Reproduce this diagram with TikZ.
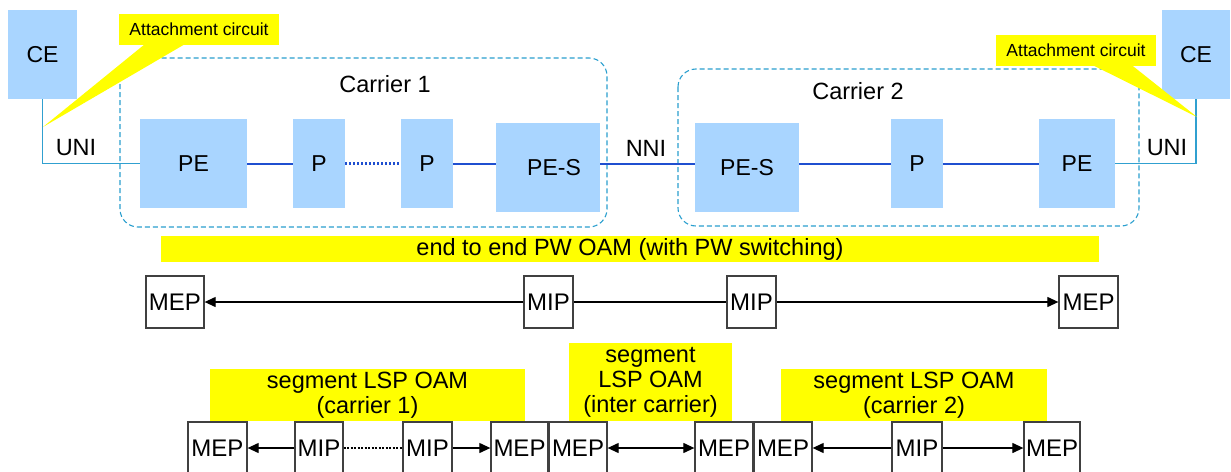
\documentclass[tikz,border=0pt]{standalone}
\usepackage{fontspec}
\setmainfont{Liberation Sans}
\usetikzlibrary{arrows.meta}
\definecolor{boxblue}{HTML}{A9D5FF}
\definecolor{dashcol}{HTML}{2A9FCF}
\definecolor{linkblue}{HTML}{1F4FD0}
\definecolor{accol}{HTML}{30A0D0}
\definecolor{hl}{HTML}{FFFF00}
\definecolor{bordergray}{HTML}{404040}
\begin{document}
\begin{tikzpicture}[x=1pt,y=-1pt,
  dev/.style={fill=boxblue, draw=none, inner sep=0, font=\fontsize{23}{27}\selectfont},
  carrier/.style={draw=dashcol, dash pattern=on 5pt off 3pt, rounded corners=18pt, line width=1.1pt},
  link/.style={draw=linkblue, line width=2pt},
  dotlink/.style={draw=linkblue, line width=2.2pt, dash pattern=on 2pt off 2pt},
  aclink/.style={draw=accol, line width=1.3pt},
  oam/.style={draw=bordergray, fill=white, line width=1.3pt, inner sep=0, minimum height=52pt, font=\fontsize{24}{27}\selectfont},
  banner/.style={fill=hl, inner sep=0, align=center, font=\fontsize{23.5}{25}\selectfont},
  callout/.style={fill=hl, inner sep=0, minimum width=160pt, minimum height=31pt, font=\fontsize{17.5}{20}\selectfont},
  lbl/.style={inner sep=0, font=\fontsize{23.5}{27}\selectfont},
  arr/.style={draw=black, line width=1.2pt},
  tipend/.style={-{Triangle[length=11pt,width=10pt]}},
  tipboth/.style={{Triangle[length=11pt,width=10pt]}-{Triangle[length=11pt,width=10pt]}},
]
\clip (0,0) rectangle (1231,471);
\fill[white] (0,0) rectangle (1231,471);

% carriers
\draw[carrier] (120,58) rectangle (607,227);
\draw[carrier] (678,69) rectangle (1139,226);
\node[lbl] (car1) at (385,84) {Carrier 1};
\node[lbl] (car2) at (858,91) {Carrier 2};

% devices
\node[dev, minimum width=69pt, minimum height=89pt] (CE1) at (42.5,54.5) {CE};
\node[dev, minimum width=68pt, minimum height=89pt] (CE2) at (1196,54.5) {CE};
\node[dev, minimum width=107pt, minimum height=89pt] (PE1) at (193.5,163.5) {PE};
\node[dev, minimum width=52pt, minimum height=89pt] (P1) at (319,163.5) {P};
\node[dev, minimum width=52pt, minimum height=89pt] (P2) at (427,163.5) {P};
\node[dev, minimum width=104pt, minimum height=89pt] (PES1) at (548,167.5) {\hspace*{12pt}PE-S};
\node[dev, minimum width=104pt, minimum height=89pt] (PES2) at (747,167.5) {PE-S};
\node[dev, minimum width=52pt, minimum height=89pt] (P3) at (917,163.5) {P};
\node[dev, minimum width=76pt, minimum height=89pt] (PE2) at (1077,163.5) {PE};

% links
\draw[aclink] (CE1.south) |- (PE1.west);
\draw[aclink] (CE2.south) |- (PE2.east);
\draw[link] (PE1.east) -- (P1.west);
\draw[dotlink] (P1.east) -- (P2.west);
\draw[link] (P2.east) -- (P2.east -| PES1.west);
\draw[link] (P2.east -| PES1.east) -- (P2.east -| PES2.west);
\draw[link] (P3.west -| PES2.east) -- (P3.west);
\draw[link] (P3.east) -- (PE2.west);

\node[lbl] (uni1) at (76,148) {UNI};
\node[lbl] (nni) at (646,148) {NNI};
\node[lbl] (uni2) at (1167,148) {UNI};

% callouts
\coordinate (tip1) at (43,127);
\coordinate (tip2) at (1197,117);
\node[callout] (ac1) at (199,29.5) {Attachment circuit};
\node[callout] (ac2) at (1076,50.5) {Attachment circuit};
\fill[hl] ([xshift=26pt,yshift=1pt]ac1.south west) -- (tip1) -- ([xshift=66pt,yshift=1pt]ac1.south west) -- cycle;
\fill[hl] ([xshift=97pt,yshift=1pt]ac2.south west) -- (tip2) -- ([xshift=136pt,yshift=1pt]ac2.south west) -- cycle;

% end to end banner
\node[banner, minimum width=938pt, minimum height=26pt] (e2e) at (630,249) {end to end PW OAM (with PW switching)};

% row 1
\node[oam, minimum width=58pt] (MEP1) at (175,302) {MEP};
\node[oam, minimum width=49pt] (MIP1) at (548.5,302) {MIP};
\node[oam, minimum width=49pt] (MIP2) at (751.5,302) {MIP};
\node[oam, minimum width=59pt] (MEP2) at (1088.5,302) {MEP};
\draw[arr, tipend] (MIP1.west) -- (MEP1.east);
\draw[arr] (MIP1.east) -- (MIP2.west);
\draw[arr, tipend] (MIP2.east) -- (MEP2.west);

% row 2 banners
\node[banner, minimum width=315pt, minimum height=52pt] (seg1) at (367.5,395) {segment LSP OAM\\(carrier 1)};
\node[banner, minimum width=163pt, minimum height=78pt] (segi) at (650.5,382) {segment\\LSP OAM\\(inter carrier)};
\node[banner, minimum width=266pt, minimum height=52pt] (seg2) at (914,395) {segment LSP OAM\\(carrier 2)};

% row 2 boxes
\node[oam, minimum width=59pt] (MEPa) at (217.5,448) {MEP};
\node[oam, minimum width=48pt] (MIPa) at (319,448) {MIP};
\node[oam, minimum width=49pt] (MIPb) at (427.5,448) {MIP};
\node[oam, minimum width=57pt] (MEPb) at (519.5,448) {MEP};
\node[oam, minimum width=58pt] (MEPc) at (578,448) {MEP};
\node[oam, minimum width=58pt] (MEPd) at (724,448) {MEP};
\node[oam, minimum width=58pt] (MEPe) at (783,448) {MEP};
\node[oam, minimum width=50pt] (MIPe) at (917,448) {MIP};
\node[oam, minimum width=56pt] (MEPf) at (1052,448) {MEP};

\draw[arr, tipend] (MIPa.west) -- (MEPa.east);
\draw[arr, dash pattern=on 2pt off 1.5pt, line width=1.4pt] (MIPa.east) -- (MIPb.west);
\draw[arr, tipend] (MIPb.east) -- (MEPb.west);
\draw[arr, tipboth] (MEPc.east) -- (MEPd.west);
\draw[arr, tipend] (MIPe.west) -- (MEPe.east);
\draw[arr, tipend] (MIPe.east) -- (MEPf.west);
\end{tikzpicture}
\end{document}
